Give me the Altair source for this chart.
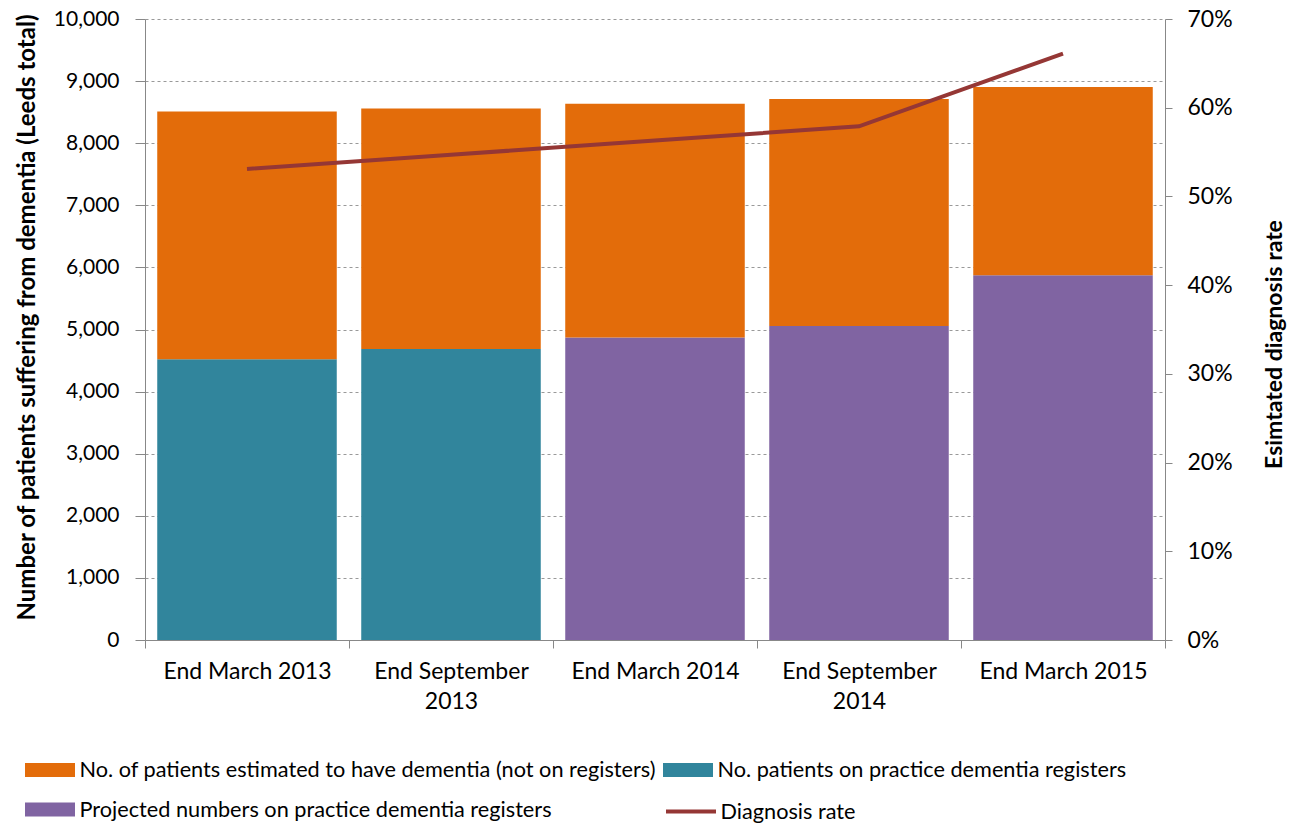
import altair as alt
import pandas as pd

categories = ["End March 2013", "End September 2013", "End March 2014",
              "End September 2014", "End March 2015"]
on_registers = [4520, 4685, None, None, None]
projected = [None, None, 4870, 5055, 5875]
not_on_registers = [3990, 3875, 3765, 3655, 3030]
diagnosis_rate = [0.531, 0.547, 0.563, 0.579, 0.661]

S_NOT = "No. of patients estimated to have dementia (not on registers)"
S_ON = "No. patients on practice dementia registers"
S_PROJ = "Projected numbers on practice dementia registers"
S_RATE = "Diagnosis rate"

rows = []
for i, c in enumerate(categories):
    if on_registers[i] is not None:
        rows.append({"cat": c, "series": S_ON, "value": on_registers[i], "ord": 0})
    if projected[i] is not None:
        rows.append({"cat": c, "series": S_PROJ, "value": projected[i], "ord": 0})
    rows.append({"cat": c, "series": S_NOT, "value": not_on_registers[i], "ord": 1})
bars_df = pd.DataFrame(rows)
line_df = pd.DataFrame({"cat": categories, "rate": diagnosis_rate, "series": S_RATE})

FONT = "Lato"
label_expr = ("indexof(datum.label,'September')>=0 ? "
              "[slice(datum.label,0,13), slice(datum.label,14)] : datum.label")

x_enc = alt.X("cat:N", sort=categories,
              scale=alt.Scale(paddingInner=0, paddingOuter=0),
              axis=alt.Axis(title=None, labelAngle=0, labelExpr=label_expr,
                            tickBand="extent", tickSize=8, tickColor="#888",
                            domainColor="#888", labelFontSize=23, labelPadding=12,
                            labelLineHeight=30, labelColor="black", labelFont=FONT,
                            labelLimit=0))

bar_path = "M-2,-0.56L2,-0.56L2,0.56L-2,0.56Z"
line_path = "M-2,0L2,0"

bars = alt.Chart(bars_df).mark_bar(width=alt.RelativeBandSize(0.88)).encode(
    x=x_enc,
    y=alt.Y("value:Q", stack="zero",
            scale=alt.Scale(domain=[0, 10000], nice=False),
            axis=alt.Axis(title="Number of patients suffering from dementia (Leeds total)",
                          values=list(range(0, 10001, 1000)), format=",.0f",
                          grid=True, gridDash=[3, 3], gridColor="#999",
                          domainColor="#888", tickColor="#888", tickSize=10,
                          labelFontSize=21, labelPadding=16, labelColor="black",
                          labelFont=FONT, titleFont=FONT, titleFontSize=24,
                          titleFontWeight="bold", titleColor="black",
                          titlePadding=14, titleY=298)),
    color=alt.Color("series:N",
                    scale=alt.Scale(domain=[S_NOT, S_ON, S_PROJ],
                                    range=["#E36C0A", "#31859C", "#8064A2"]),
                    legend=alt.Legend(title=None, orient="none", legendX=-107.5,
                                      legendY=738, columns=2, direction="horizontal",
                                      columnPadding=6, rowPadding=15,
                                      symbolType=bar_path,
                                      symbolSize=625, symbolStrokeWidth=0,
                                      labelFontSize=21.7, labelFont=FONT,
                                      labelColor="black", labelLimit=0,
                                      labelOffset=17)),
    order=alt.Order("ord:Q"),
)

line = alt.Chart(line_df).mark_line(strokeWidth=4).encode(
    x=x_enc,
    y=alt.Y("rate:Q", scale=alt.Scale(domain=[0, 0.7], nice=False),
            axis=alt.Axis(title="Esimtated diagnosis rate", orient="right",
                          values=[0, 0.1, 0.2, 0.3, 0.4, 0.5, 0.6, 0.7],
                          format=".0%", grid=False, domainColor="#888",
                          tickColor="#888", tickSize=7, labelFontSize=23,
                          labelPadding=15, labelColor="black", labelFont=FONT,
                          titleFont=FONT, titleFontSize=23, titleFontWeight="bold",
                          titleColor="black", titleAngle=270, titlePadding=54,
                          titleY=325)),
    stroke=alt.Stroke("series:N",
                      scale=alt.Scale(domain=[S_RATE], range=["#953735"]),
                      legend=alt.Legend(title=None, orient="none", legendX=531.5,
                                        legendY=778, symbolType=line_path,
                                        symbolSize=625, symbolStrokeWidth=4,
                                        labelFontSize=21.7, labelFont=FONT,
                                        labelColor="black", labelLimit=0,
                                        labelOffset=15)),
)

chart = alt.layer(bars, line).resolve_scale(y="independent").properties(
    width=1020, height=621,
    padding={"left": 145, "top": 19, "right": 134, "bottom": 183},
    autosize=alt.AutoSizeParams(type="none"),
    background="white",
).configure_view(stroke=None)

chart.save("out.html", embed_options={"renderer": "svg", "actions": False})
